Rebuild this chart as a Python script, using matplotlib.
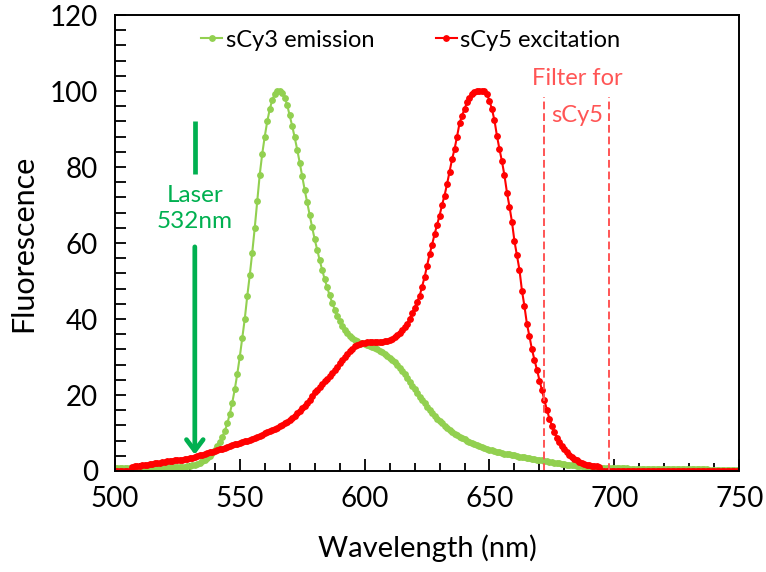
import numpy as np
import matplotlib
matplotlib.use("Agg")
import matplotlib.pyplot as plt
from matplotlib.ticker import MultipleLocator

plt.rcParams['font.family'] = ['Lato', 'DejaVu Sans']

# wavelengths, 1 nm steps from 500 to 750
wavelength = list(range(500, 751))

# sCy3 emission (10 values per row)
sCy3_emission = [
    0.8, 0.8, 0.8, 0.8, 0.8, 0.8, 0.8, 0.8, 0.8, 0.8,          # 500
    0.9, 0.9, 0.9, 0.9, 0.9, 0.9, 0.9, 0.9, 0.9, 0.9,          # 510
    1.0, 1.0, 1.0, 1.0, 1.0, 1.0, 1.0, 1.1, 1.1, 1.2,          # 520
    1.3, 1.5, 1.7, 1.9, 2.2, 2.5, 2.9, 3.4, 4.0, 4.8,          # 530
    5.6, 6.6, 7.7, 9.0, 10.5, 12.5, 15.0, 18.0, 21.5, 25.5,    # 540
    30.0, 35.0, 40.0, 46.0, 51.5, 57.5, 64.0, 71.0, 78.0, 83.5,  # 550
    88.0, 92.0, 95.2, 97.6, 99.2, 99.9, 100.0, 99.6, 98.3, 96.3,  # 560
    93.6, 90.8, 87.8, 84.6, 81.2, 77.6, 74.0, 70.7, 67.4, 64.1,  # 570
    61.0, 58.2, 55.5, 52.9, 50.5, 48.3, 46.2, 44.3, 42.5, 40.9,  # 580
    39.5, 38.2, 37.1, 36.2, 35.5, 34.9, 34.5, 34.1, 33.8, 33.6,  # 590
    33.4, 33.2, 32.9, 32.6, 32.3, 32.0, 31.7, 31.3, 30.8, 30.3,  # 600
    29.8, 29.3, 28.6, 27.8, 27.0, 26.2, 25.4, 24.5, 23.5, 22.5,  # 610
    21.5, 20.5, 19.6, 18.7, 17.8, 16.9, 16.0, 15.2, 14.5, 13.8,  # 620
    13.1, 12.5, 11.9, 11.3, 10.8, 10.3, 9.8, 9.4, 9.0, 8.7,      # 630
    8.3, 8.0, 7.7, 7.4, 7.1, 6.8, 6.5, 6.2, 6.0, 5.8,            # 640
    5.6, 5.4, 5.2, 5.0, 4.9, 4.7, 4.6, 4.5, 4.4, 4.2,            # 650
    4.1, 4.0, 3.8, 3.7, 3.6, 3.5, 3.3, 3.2, 3.1, 3.0,            # 660
    2.9, 2.8, 2.7, 2.5, 2.4, 2.3, 2.2, 2.1, 2.0, 1.9,            # 670
    1.8, 1.7, 1.6, 1.5, 1.5, 1.4, 1.3, 1.3, 1.2, 1.1,            # 680
    1.1, 1.0, 1.0, 0.9, 0.9, 0.9, 0.8, 0.8, 0.8, 0.7,            # 690
    0.7, 0.7, 0.7, 0.7, 0.7, 0.7, 0.6, 0.6, 0.6, 0.6,            # 700
    0.6, 0.6, 0.6, 0.6, 0.6, 0.5, 0.5, 0.5, 0.5, 0.5,            # 710
    0.5, 0.5, 0.5, 0.5, 0.5, 0.5, 0.4, 0.4, 0.4, 0.4,            # 720
    0.4, 0.4, 0.4, 0.4, 0.4, 0.4, 0.4, 0.4, 0.3, 0.3,            # 730
    0.3, 0.3, 0.3, 0.3, 0.3, 0.3, 0.3, 0.3, 0.3, 0.3,            # 740
    0.3,                                                         # 750
]

# sCy5 excitation
sCy5_excitation = [
    0.0, 0.0, 0.0, 0.0, 0.0, 0.0, 0.0, 1.1, 1.2, 1.3,            # 500
    1.4, 1.5, 1.6, 1.7, 1.8, 1.9, 2.0, 2.1, 2.2, 2.3,            # 510
    2.4, 2.5, 2.6, 2.7, 2.8, 2.9, 3.0, 3.0, 3.1, 3.2,            # 520
    3.3, 3.5, 3.7, 3.9, 4.1, 4.3, 4.5, 4.7, 4.9, 5.1,            # 530
    5.3, 5.5, 5.7, 5.9, 6.1, 6.4, 6.6, 6.8, 7.0, 7.2,            # 540
    7.4, 7.6, 7.8, 8.0, 8.2, 8.4, 8.6, 8.9, 9.2, 9.5,            # 550
    9.9, 10.2, 10.5, 10.8, 11.1, 11.4, 11.8, 12.2, 12.6, 13.0,   # 560
    13.5, 14.0, 14.6, 15.2, 15.8, 16.5, 17.2, 18.0, 18.8, 19.8,  # 570
    20.7, 21.4, 22.2, 22.9, 23.6, 24.3, 25.0, 25.8, 26.6, 27.4,  # 580
    28.3, 29.1, 29.9, 30.7, 31.5, 32.2, 32.8, 33.2, 33.5, 33.7,  # 590
    33.8, 33.9, 34.0, 34.0, 34.0, 33.9, 34.0, 34.0, 34.1, 34.3,  # 600
    34.5, 34.8, 35.2, 35.7, 36.3, 37.0, 37.8, 38.8, 40.0, 41.5,  # 610
    43.0, 44.5, 46.0, 48.5, 51.0, 54.0, 57.0, 59.5, 62.3, 64.8,  # 620
    67.2, 70.0, 72.5, 75.5, 78.8, 82.0, 84.7, 88.0, 91.5, 93.5,  # 630
    95.3, 97.0, 98.3, 99.3, 99.8, 100.0, 100.0, 100.0, 99.9, 99.2,  # 640
    97.4, 95.2, 92.3, 88.2, 84.7, 81.5, 77.8, 73.3, 69.6, 65.6,  # 650
    60.5, 56.8, 53.0, 47.5, 43.4, 38.7, 35.5, 32.0, 29.3, 26.7,  # 660
    23.8, 21.2, 18.6, 16.1, 13.8, 11.9, 10.2, 8.8, 7.6, 6.6,     # 670
    5.7, 5.0, 4.3, 3.7, 3.2, 2.8, 2.4, 2.1, 1.9, 1.7,            # 680
    1.5, 1.4, 1.3, 1.2, 1.1, 0.0, 0.0, 0.0, 0.0, 0.0,            # 690
] + [0.0] * 51                                                   # 700-750

# filter edges for sCy5 and laser line
filter_edges = [672, 698]
laser_nm = 532

green = '#92D050'
red = '#FF0000'
laser_green = '#00B050'
filter_red = '#FF5555'

fig = plt.figure(figsize=(7.66, 5.72), dpi=100)
ax = fig.add_axes([0.150, 0.1766, 0.815, 0.797])

ax.plot(wavelength, sCy3_emission, color=green, marker='o', markersize=3.9,
        linewidth=1.5, label='sCy3 emission')
ax.plot(wavelength, sCy5_excitation, color=red, marker='o', markersize=3.9,
        linewidth=1.5, label='sCy5 excitation')

for x in filter_edges:
    ax.plot([x, x], [0, 98.5], color=filter_red, linestyle=(0, (4, 2)), linewidth=1.4)
ax.text(np.mean(filter_edges), 103.3, 'Filter for', color=filter_red, fontsize=17,
        ha='center', va='center')
ax.text(np.mean(filter_edges), 93.6, 'sCy5', color=filter_red, fontsize=17,
        ha='center', va='center')

# laser arrow, split around its label
ax.plot([laser_nm, laser_nm], [78.3, 92.2], color=laser_green, linewidth=3.4,
        solid_capstyle='butt')
ax.annotate('', xy=(laser_nm, 4.3), xytext=(laser_nm, 59),
            arrowprops=dict(arrowstyle='->,head_length=0.8,head_width=0.6',
                            color=laser_green, lw=3.4, shrinkA=0, shrinkB=0))
ax.text(laser_nm, 69, 'Laser\n532nm', color=laser_green, fontsize=17.5,
        ha='center', va='center', linespacing=1.3)

ax.set_xlim(500, 750)
ax.set_ylim(0, 120)
ax.xaxis.set_major_locator(MultipleLocator(50))
ax.xaxis.set_minor_locator(MultipleLocator(10))
ax.yaxis.set_major_locator(MultipleLocator(20))
ax.yaxis.set_minor_locator(MultipleLocator(4))
ax.tick_params(which='both', direction='in', top=False, right=False,
               width=1.3, labelsize=20)
ax.tick_params(axis='x', which='major', length=9, pad=11)
ax.tick_params(axis='x', which='minor', length=6)
ax.tick_params(axis='y', which='both', length=8, pad=12)
for s in ax.spines.values():
    s.set_linewidth(1.4)

ax.set_xlabel('Wavelength (nm)', fontsize=21, labelpad=16)
ax.set_ylabel('Fluorescence', fontsize=22, labelpad=9)

ax.legend(loc='center', bbox_to_anchor=(0.474, 0.945), ncol=2, frameon=False,
          fontsize=17, handlelength=0.9, handletextpad=0.15, columnspacing=2.6,
          markerscale=1.0)

fig.savefig('out.png', dpi=100)
